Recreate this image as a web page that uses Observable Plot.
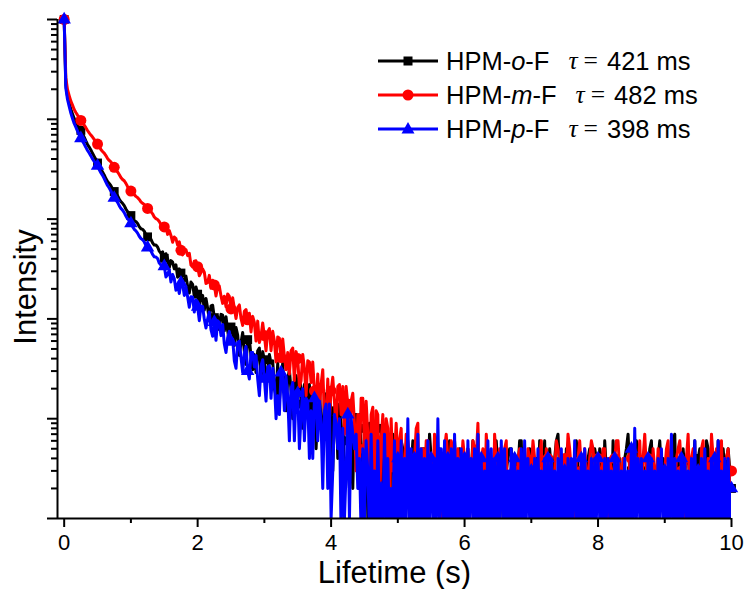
<!DOCTYPE html>
<html><head><meta charset="utf-8">
<script src="https://cdn.jsdelivr.net/npm/d3@7"></script>
<script src="https://cdn.jsdelivr.net/npm/@observablehq/plot@0.6"></script>
<style>
body{margin:0;background:#fff;}
#wrap{position:relative;width:744px;height:589px;font-family:"Liberation Sans",Arial,sans-serif;background:#fff;}
#legend{position:absolute;left:378px;top:44px;font-size:25.5px;color:#000;}
.row{display:flex;align-items:center;height:34px;white-space:nowrap;}
.row svg{margin-right:8px;flex:none;}
.tau{font-family:"Liberation Serif","Times New Roman",serif;font-style:italic;margin-left:19px;}
.eq{font-family:"Liberation Serif","Times New Roman",serif;margin:0 9px 0 6px;}
</style></head><body><div id="wrap"><div id="chart"></div><div id="legend"></div></div>
<script>
// time step of the decay record (s)
const dt = 0.025;
const isomer = ["o", "m", "p"];
const lifetimesMs = [421, 482, 398];
const colors = ["#000000", "#ff0000", "#0000ff"];
const symbols = ["square", "circle", "triangle"];

// HPM-o-F intensity (counts), one value every 0.025 s from 0 to 10 s (20 values = 0.5 s per line)
const intensityO = [
100000,22000,17000,14650,12600,11300,10180,9470,8750,8200,7740,7190,6640,6070,5590,5270,4930,4560,4250,3960,
3650,3370,3140,2970,2770,2550,2380,2280,2160,2005,1890,1810,1715,1590,1495,1440,1365,1262,1185,1145,
1085,1010,962,945,905,840,800,790,756,697,664,658,630,578,549,550,526,478,455,470,
405,450,402,327,384,370,317,348,262,317,288,219,249,268,213,182,234,222,168,209,
177,131,166,172,123,160,128,98,135,137,103,84,106,78,111,109,76,105,77,57,
83,87,54,82,69,43,58,73,47,35,62,63,42,31,44,29,48,51,24,47,
39,21,30,44,36,38,20,17,36,15,26,36,18,12,25,31,19,10,26,27,
14,27,20,8,22,23,13,22,7,20,17,5,13,20,9,5,18,17,6,16,
12,3,12,15,4,14,8,2,12,12,6,2,8,2,11,11,3,11,5,1,
8,10,1,9,7,1,5,9,3,1,8,2,4,9,4,0,6,7,1,5,
4,3,6,5,2,4,5,1,3,6,3,3,1,2,4,5,5,4,2,7,
4,2,3,3,4,5,0,2,5,4,3,6,2,1,6,3,4,5,3,2,
2,4,5,2,3,6,4,3,7,1,2,4,3,5,5,2,1,3,4,6,
3,0,3,4,2,3,4,5,5,2,3,4,3,6,6,1,4,3,2,5,
3,2,3,4,1,6,4,3,6,1,2,5,3,2,4,6,7,3,3,4,
2,5,5,0,1,3,4,6,3,2,3,4,2,1,4,5,3,3,5,4,
2,5,4,1,6,3,3,4,1,6,3,2,3,4,2,0,4,5,7,3,
3,2,2,6,5,3,4,1,1,4,3,5,6,2,2,3,4,6,3,4,
3,2,2,4,3,6,7,1,4,3,3,5,3,4,5,2,2,3,6,0,
4,5,3,3,1,6,5,2,3,4,4,1,6,3,2,5,3,4,5,3,
2];

// HPM-m-F intensity (counts)
const intensityM = [
100000,26000,19900,17300,15200,13850,12550,11700,11000,10380,9750,9200,8740,8250,7720,7300,6950,6640,6280,5930,
5640,5330,4990,4760,4590,4330,4050,3870,3740,3530,3300,3110,2970,2800,2610,2495,2420,2280,2120,2005,
1910,1850,1760,1690,1640,1575,1490,1440,1400,1345,1280,1220,1190,1130,1050,1010,990,945,880,872,
835,830,703,768,686,587,662,637,550,591,487,438,490,493,430,455,347,332,379,382,
333,270,291,317,294,226,231,273,203,244,219,170,211,213,170,143,169,132,178,168,
126,163,128,101,130,138,101,86,119,124,98,114,74,106,92,60,95,58,67,91,
68,48,74,80,48,75,60,37,66,64,41,63,42,31,46,28,48,51,24,47,
40,21,24,44,32,17,38,37,23,37,19,14,28,12,22,31,11,9,25,10,
19,26,15,7,21,22,11,21,7,21,14,4,15,18,9,3,11,4,16,16,
5,15,7,2,11,13,1,12,11,1,6,11,2,10,8,1,10,3,4,9,
4,6,8,2,3,7,6,4,1,3,4,8,9,1,5,5,2,6,6,3,
4,2,7,6,3,4,0,1,5,7,4,3,6,5,2,4,5,2,3,6,
4,3,5,1,2,6,5,4,9,2,4,5,1,7,4,3,3,0,7,4,
2,5,4,2,5,6,0,3,3,4,3,1,4,5,2,3,3,2,5,4,
3,6,4,2,3,4,6,0,2,5,4,3,0,2,3,6,5,4,2,1,
4,3,7,5,3,2,1,4,4,6,3,0,5,3,2,4,6,5,3,2,
4,3,2,5,5,0,1,4,3,2,4,6,6,3,2,4,3,1,0,5,
4,3,5,2,3,6,2,4,7,3,4,0,1,5,3,2,5,4,2,3,
3,5,6,2,4,3,2,4,5,6,3,0,3,4,7,2,4,5,2,3,
3,1,5,6,0,3,4,2,7,4,3,5,2,3,6,1,4,4,5,2,
3];

// HPM-p-F intensity (counts)
const intensityP = [
100000,20500,15800,13500,11520,10200,9080,8350,7620,6980,6440,6040,5650,5230,4870,4590,4300,4010,3770,3600,
3410,3140,2910,2740,2550,2350,2170,2050,1915,1755,1630,1555,1470,1365,1280,1230,1160,1075,1005,970,
905,841,790,763,724,673,639,622,590,546,519,506,481,442,419,417,402,362,346,350,
337,263,278,309,234,279,253,194,221,180,230,222,172,208,167,131,167,165,117,155,
132,96,134,133,99,81,100,117,78,67,93,61,96,92,68,88,56,46,65,75,
59,63,38,32,58,60,41,29,46,53,30,25,46,46,33,43,25,17,34,39,
25,15,33,34,16,32,23,10,17,11,29,27,12,26,17,6,20,23,6,19,
18,5,11,20,6,16,15,4,12,4,16,16,6,15,9,2,12,14,2,14,
1,3,11,9,5,10,0,8,1,3,11,1,10,7,5,7,2,4,0,5,
1,6,3,0,7,1,3,0,6,1,2,0,7,1,4,0,2,1,6,0,
4,1,6,0,4,1,10,1,5,0,4,1,7,0,5,1,4,0,6,1,
4,1,4,0,10,1,5,1,6,0,4,1,5,0,7,1,4,0,5,1,
4,0,6,1,4,1,5,0,7,1,4,0,3,1,6,0,5,1,4,0,
4,1,6,1,5,0,3,1,5,0,4,0,3,1,5,0,6,1,4,1,
3,0,4,1,5,0,3,1,4,0,4,0,4,1,3,0,4,1,5,0,
3,1,4,0,4,1,6,1,3,0,4,1,5,0,3,1,4,0,4,1,
4,1,3,0,4,1,4,1,3,0,4,1,4,0,3,1,4,0,3,1,
5,0,8,1,4,1,4,0,3,1,4,0,4,1,3,0,4,1,5,1,
3,0,4,1,7,0,4,1,3,0,4,1,4,1,3,0,4,1,6,0,
3,1,4,0,5,1,3,0,4,0,4,1,6,0,3,1,4,0,4,1,
2];

const xMajorTicks = [0, 2, 4, 6, 8, 10];
const xMinorTicks = [1, 3, 5, 7, 9];
const yMajorTicks = [1, 10, 100, 1000, 10000, 100000];
const yMinorTicks = yMajorTicks.slice(0, -1).flatMap(p => [2,3,4,5,6,7,8,9].map(m => m * p));
const markerEvery = 10; // one symbol every 0.25 s
const zeroFloor = 0.7;  // zero counts are drawn just below the axis (clipped)

const allSeries = [intensityO, intensityM, intensityP];
const rows = allSeries.map((arr, k) => arr.map((v, i) => ({k, i, t: i * dt, v})));

const seriesMarks = [];
rows.forEach((r, k) => {
  seriesMarks.push(Plot.line(r, {x: "t", y: d => Math.max(d.v, zeroFloor), stroke: colors[k], strokeWidth: 3, clip: true, strokeLinejoin: "round"}));
  seriesMarks.push(Plot.dot(r.filter(d => d.i % markerEvery === 0 && d.v > 1), {x: "t", y: "v", symbol: symbols[k], fill: colors[k], stroke: "none", r: k === 1 ? 5.5 : 5}));
});

const chart = Plot.plot({
  width: 744, height: 589,
  marginLeft: 57, marginRight: 13, marginTop: 19, marginBottom: 71,
  style: {fontFamily: "'Liberation Sans', Arial, sans-serif", background: "white", overflow: "visible", color: "black"},
  x: {domain: [-0.1, 10]},
  y: {type: "log", domain: [1, 100000]},
  marks: [
    ...seriesMarks,
    Plot.ruleX([-0.1], {strokeWidth: 2}),
    Plot.ruleY([1], {strokeWidth: 2}),
    Plot.axisY({ticks: yMajorTicks, tickSize: 10, tickFormat: () => "", strokeWidth: 2, label: null}),
    Plot.axisY({ticks: yMinorTicks, tickSize: 6, tickFormat: () => "", strokeWidth: 2, label: null}),
    Plot.axisX({ticks: xMajorTicks, tickSize: 9, tickPadding: 7, fontSize: 22, strokeWidth: 2, tickFormat: d => String(d), label: null}),
    Plot.axisX({ticks: xMinorTicks, tickSize: 5, tickFormat: () => "", strokeWidth: 2, label: null}),
    Plot.text(["Lifetime (s)"], {frameAnchor: "bottom", dy: 64, fontSize: 31, text: d => d}),
    Plot.text(["Intensity"], {frameAnchor: "left", textAnchor: "middle", dx: -31, dy: 18, rotate: -90, fontSize: 31, text: d => d})
  ]
});
document.getElementById("chart").appendChild(chart);

// legend
const legend = document.getElementById("legend");
isomer.forEach((iso, k) => {
  const row = document.createElement("div");
  row.className = "row";
  let sym;
  if (symbols[k] === "square") sym = `<rect x="25.5" y="5.5" width="9" height="9" fill="${colors[k]}"/>`;
  else if (symbols[k] === "circle") sym = `<circle cx="30" cy="10" r="5.5" fill="${colors[k]}"/>`;
  else sym = `<path d="M30,3 L36.5,14.5 L23.5,14.5 Z" fill="${colors[k]}"/>`;
  row.innerHTML = `<svg width="60" height="20"><line x1="0" y1="10" x2="60" y2="10" stroke="${colors[k]}" stroke-width="3"/>${sym}</svg>` +
    `<span>HPM-<i>${iso}</i>-F</span><span class="tau">τ</span><span class="eq">=</span><span>${lifetimesMs[k]} ms</span>`;
  legend.appendChild(row);
});
</script></body></html>
